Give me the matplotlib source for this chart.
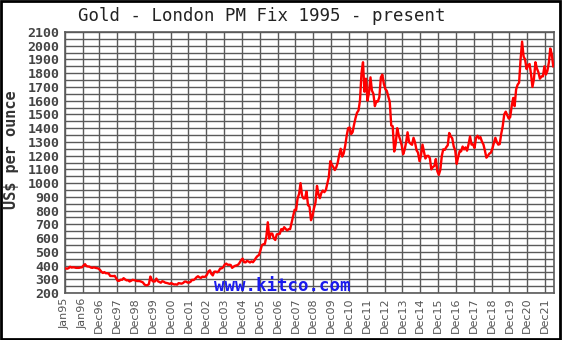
import matplotlib
matplotlib.use("Agg")
import matplotlib.pyplot as plt
import matplotlib.patches as mpatches
import pandas as pd

# monthly gold price (US$/oz), Jan 1995 .. May 2022
prices = [
    # 1995
    379, 377, 381, 391, 385, 387, 386, 383, 383, 383, 386, 387,
    # 1996
    400, 410, 396, 393, 392, 385, 383, 387, 383, 381, 378, 369,
    # 1997
    355, 346, 352, 344, 344, 341, 324, 324, 323, 325, 306, 289,
    # 1998
    289, 297, 296, 308, 299, 292, 293, 284, 289, 296, 294, 291,
    # 1999
    287, 287, 286, 282, 277, 262, 256, 257, 265, 320, 293, 283,
    # 2000
    284, 305, 286, 280, 275, 286, 282, 275, 273, 270, 266, 272,
    # 2001
    266, 262, 263, 261, 272, 270, 268, 273, 283, 283, 276, 276,
    # 2002
    282, 296, 294, 302, 314, 322, 314, 310, 319, 317, 319, 333,
    # 2003
    357, 365, 340, 328, 355, 356, 351, 360, 379, 379, 389, 407,
    # 2004
    414, 405, 406, 404, 383, 392, 398, 401, 406, 420, 439, 450,
    # 2005
    424, 423, 434, 429, 422, 430, 424, 438, 456, 469, 476, 510,
    # 2006
    549, 555, 557, 610, 715, 596, 633, 632, 598, 586, 627, 629,
    # 2007
    631, 665, 655, 679, 667, 655, 665, 665, 712, 754, 806, 803,
    # 2008
    889, 922, 1000, 909, 888, 889, 939, 839, 829, 730, 760, 816,
    # 2009
    858, 980, 924, 890, 928, 946, 934, 949, 996, 1044, 1160, 1135,
    # 2010
    1117, 1095, 1114, 1148, 1205, 1250, 1193, 1215, 1271, 1343, 1400, 1405,
    # 2011
    1357, 1372, 1424, 1474, 1512, 1529, 1600, 1800, 1880, 1665, 1760, 1600,
    # 2012
    1656, 1770, 1674, 1650, 1560, 1596, 1594, 1627, 1770, 1790, 1722, 1685,
    # 2013
    1671, 1628, 1593, 1420, 1414, 1230, 1286, 1400, 1349, 1316, 1275, 1210,
    # 2014
    1244, 1300, 1370, 1299, 1287, 1279, 1330, 1296, 1239, 1222, 1160, 1201,
    # 2015
    1280, 1227, 1179, 1198, 1199, 1181, 1100, 1117, 1125, 1175, 1086, 1060,
    # 2016
    1097, 1200, 1246, 1242, 1261, 1276, 1365, 1341, 1326, 1267, 1238, 1140,
    # 2017
    1192, 1234, 1231, 1266, 1246, 1260, 1236, 1283, 1340, 1280, 1282, 1255,
    # 2018
    1331, 1345, 1325, 1335, 1303, 1282, 1238, 1185, 1199, 1215, 1221, 1250,
    # 2019
    1292, 1330, 1300, 1280, 1284, 1359, 1413, 1500, 1520, 1495, 1470, 1480,
    # 2020
    1560, 1620, 1560, 1683, 1716, 1732, 1900, 2030, 1921, 1900, 1830, 1858,
    # 2021
    1867, 1790, 1700, 1760, 1880, 1834, 1807, 1760, 1776, 1777, 1850, 1790,
    # 2022
    1817, 1880, 1980, 1937, 1850,
]
dates = pd.date_range("1995-01-01", periods=len(prices), freq="MS") + pd.Timedelta(days=14)

tick_dates = ["1995-01-01", "1996-01-01"] + [f"{y}-12-01" for y in range(1996, 2022)]
tick_labels = ["Jan95", "Jan96"] + [f"Dec{str(y)[2:]}" for y in range(1996, 2022)]

grid_col = "#5a5a5a"

fig = plt.figure(figsize=(5.62, 3.40), dpi=100)
ax = fig.add_axes([65 / 562, 1 - 293 / 340, 488.5 / 562, 261 / 340])

ax.plot(dates, prices, color="red", linewidth=1.7, zorder=3)

ax.set_ylim(200, 2100)
ax.set_yticks(range(200, 2101, 100))
ax.set_yticks(range(250, 2100, 100), minor=True)
ax.set_xlim(pd.Timestamp("1995-01-01"), pd.Timestamp("2022-05-20"))
ax.set_xticks(pd.to_datetime(tick_dates))
ax.set_xticklabels(tick_labels, rotation=90, fontsize=8, color="#555555",
                   family="DejaVu Sans")
ax.tick_params(axis="both", which="both", length=0)
ax.tick_params(axis="x", pad=3)
ax.tick_params(axis="y", pad=4)
for lab in ax.get_yticklabels():
    lab.set_family("DejaVu Sans Mono")
    lab.set_fontweight("bold")
    lab.set_fontsize(9.5)
    lab.set_color("#444444")

ax.grid(True, which="both", color=grid_col, linewidth=1.0)
ax.set_axisbelow(True)
for s in ax.spines.values():
    s.set_color(grid_col)
    s.set_linewidth(1.2)

fig.text(262 / 562, 1 - 16 / 340, "Gold - London PM Fix 1995 - present",
         family="DejaVu Sans Mono", fontsize=12.5, ha="center", va="center",
         color="#222222")
fig.text(12 / 562, 1 - 150 / 340, "US$ per ounce", family="DejaVu Sans Mono",
         fontweight="bold", fontsize=11, rotation=90, ha="center", va="center",
         color="#333333")
fig.text(282 / 562, 1 - 286 / 340, "www.kitco.com", family="DejaVu Sans Mono",
         fontweight="bold", fontsize=12.5, ha="center", va="center",
         color="#1a1aee", zorder=5)

fig.patches.append(mpatches.Rectangle((0.002, 0.004), 0.994, 0.993, fill=False,
                                      edgecolor="black", linewidth=2,
                                      transform=fig.transFigure))

fig.savefig("out.png", dpi=100)
